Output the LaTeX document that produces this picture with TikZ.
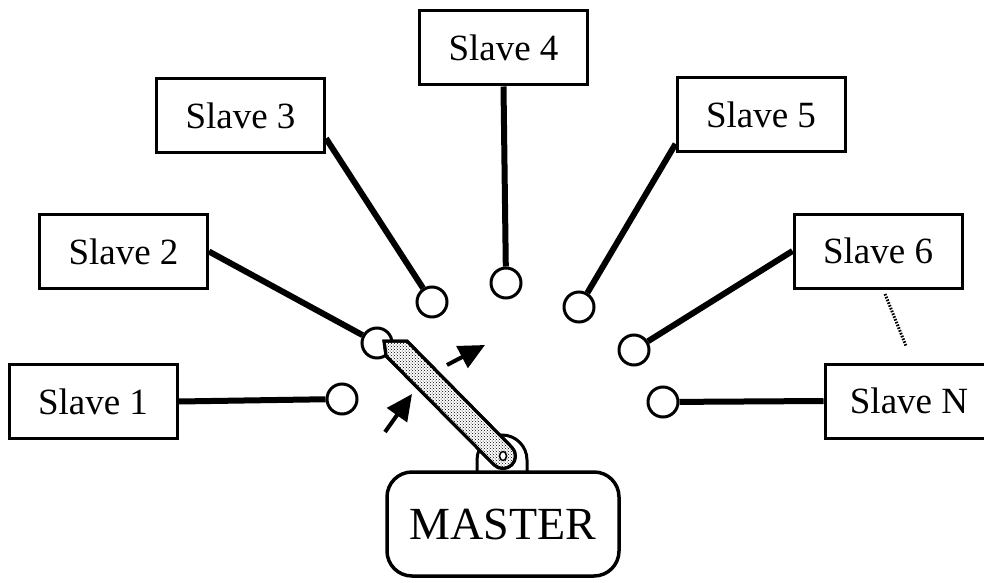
\documentclass[tikz,border=0pt]{standalone}
\usepackage{fontspec}
\setmainfont{Liberation Serif}
\usetikzlibrary{arrows.meta,patterns}
\begin{document}
\begin{tikzpicture}
[ x=1pt, y=1pt
, slave/.style={rectangle, draw, line width=3pt, minimum width=168pt, minimum height=74pt, inner sep=0pt, font=\fontsize{37}{40}\selectfont}
, master/.style={rectangle, draw, line width=3.5pt, rounded corners=25pt, minimum width=232pt, minimum height=104pt, inner sep=0pt, font=\fontsize{46}{50}\selectfont}
, contact/.style={circle, draw, line width=3pt, fill=white, minimum size=30pt, inner sep=0pt}
, wire/.style={line width=6pt}
, motion/.style={line width=4pt, -{Triangle[length=26pt, width=24pt]}}
]
\useasboundingbox (0,0) rectangle (984,582);
% Slaves round the master:
\node (s1) [slave] at (93,180.5) {Slave 1};
\node (s2) [slave] at (123.5,330.5) {Slave 2};
\node (s3) [slave] at (240.5,466.5) {Slave 3};
\node (s4) [slave] at (503.5,534) {Slave 4};
\node (s5) [slave] at (761,467.5) {Slave 5};
\node (s6) [slave] at (878,331) {Slave 6};
\node (sN) [slave] at (909,181) {Slave N};
\node (m) [master] at (503,58) {MASTER};
% Contacts:
\node (c1) [contact] at (342,183) {};
\node (c2) [contact] at (377,239) {};
\node (c3) [contact] at (432,280) {};
\node (c4) [contact] at (506,299) {};
\node (c5) [contact] at (579,275) {};
\node (c6) [contact] at (634,232) {};
\node (cN) [contact] at (663,180) {};
\draw [wire] (s1.east) -- (c1);
\draw [wire] (s2.east) -- (c2);
\draw [wire] (s3.-15) -- (c3);
\draw [wire] (s4.south) -- (c4);
\draw [wire] (s5.199) -- (c5);
\draw [wire] (s6.west) -- (c6);
\draw [wire] (sN.west) -- (cN);
% Gap between slave 6 and slave N:
\coordinate (gapA) at (885,288);
\coordinate (gapB) at (906,236);
\draw [line width=3pt, dash pattern=on 1.6pt off 1.4pt] (gapA) -- (gapB);
% Pivot on top of the master:
\coordinate (pivot) at (503,126);
\draw [line width=3pt] (477,110) -- (477,122) arc[start angle=180, end angle=0, radius=25] -- (527,110);
% Rotating arm:
\draw [line width=3pt, fill=white] (407,241) -- (511.8,134.8) arc[start angle=45, end angle=-135, radius=12.5] -- (386,226) -- (384,241) -- cycle;
\fill [pattern=crosshatch dots] (407,241) -- (511.8,134.8) arc[start angle=45, end angle=-135, radius=12.5] -- (386,226) -- (384,241) -- cycle;
\draw [line width=3pt] (407,241) -- (511.8,134.8) arc[start angle=45, end angle=-135, radius=12.5] -- (386,226) -- (384,241) -- cycle;
\draw [line width=1.5pt, fill=white] (pivot) ellipse [x radius=3.5, y radius=4.5];
% Direction of rotation:
\coordinate (a1) at (385,150);
\coordinate (a1tip) at (412,188);
\coordinate (a2) at (447,217);
\coordinate (a2tip) at (485,237);
\draw [motion] (a1) -- (a1tip);
\draw [motion] (a2) -- (a2tip);
\end{tikzpicture}
\end{document}
